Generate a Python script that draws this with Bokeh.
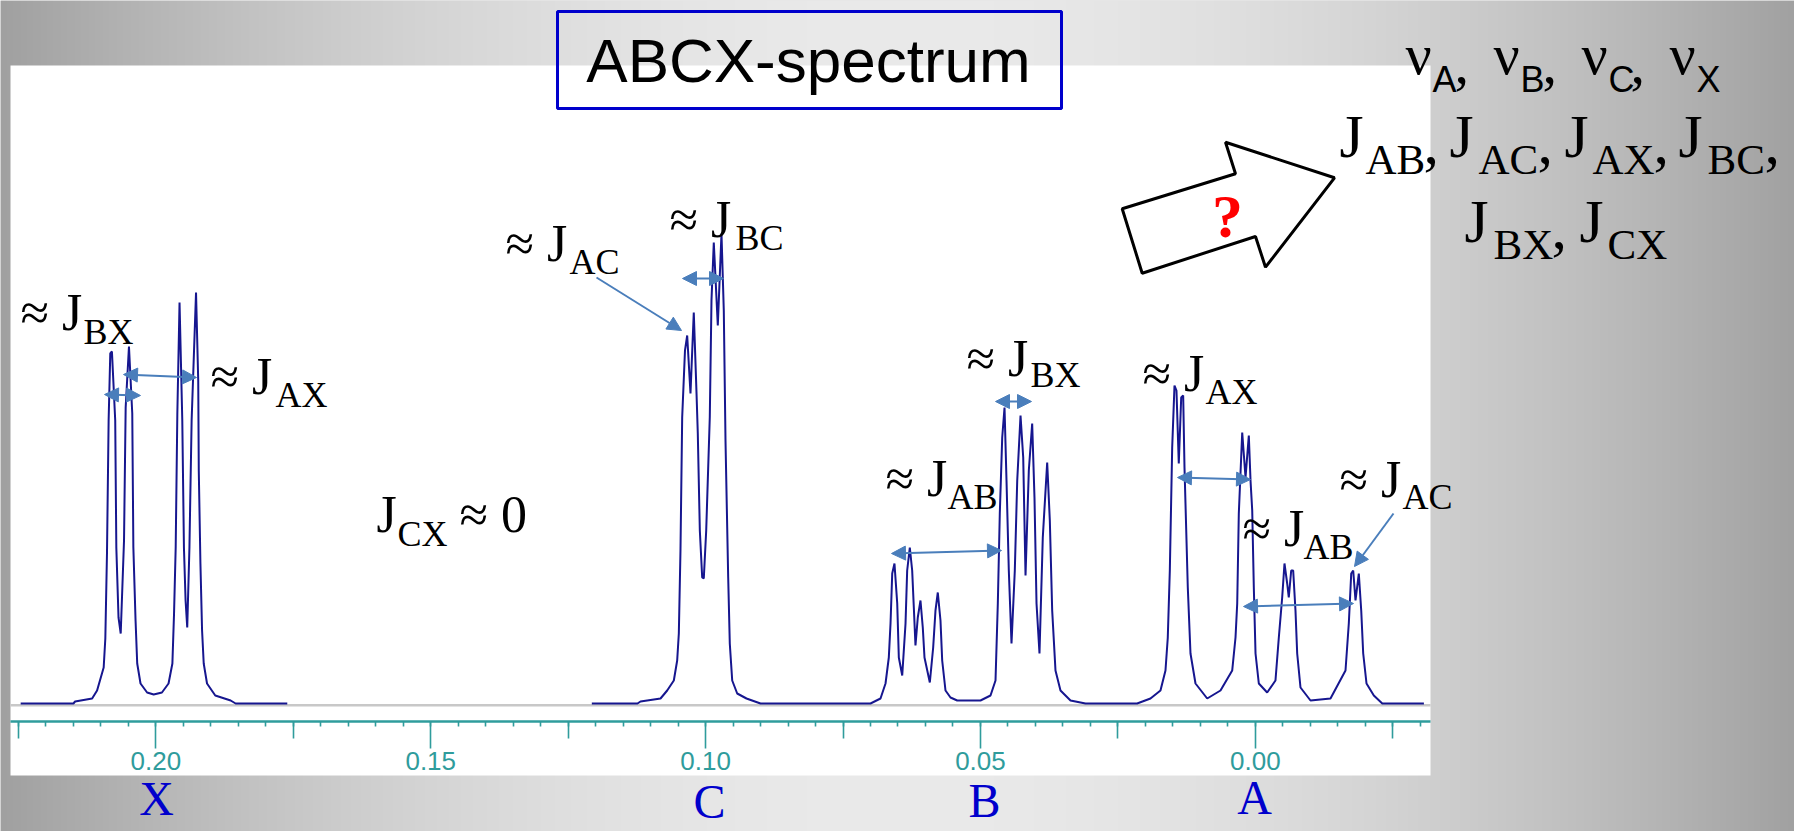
import numpy as np
from bokeh.plotting import figure
from bokeh.models import (Range1d, LinearAxis, FixedTicker, Label, BoxAnnotation,
                          PolyAnnotation, Arrow, NormalHead, NumeralTickFormatter)
from bokeh.embed import file_html
from bokeh.resources import INLINE

# ---------------- data ----------------
# spectrum trace, chemical shift (ppm) and intensity (arb. units)
seg1_ppm = [0.2246, 0.2150, 0.2147, 0.2116, 0.2107, 0.2095, 0.2092, 0.2089, 0.2086, 0.2083,
            0.2080, 0.2074, 0.2072, 0.2068, 0.2064, 0.2058, 0.2055, 0.2049, 0.2043, 0.2041,
            0.2037, 0.2034, 0.2028, 0.2016, 0.2004, 0.1989, 0.1977, 0.1970, 0.1967, 0.1964,
            0.1961, 0.1957, 0.1952, 0.1949, 0.1946, 0.1943, 0.1939, 0.1935, 0.1927, 0.1923,
            0.1922, 0.1919, 0.1916, 0.1913, 0.1907, 0.1892, 0.1864, 0.1855, 0.1761]
seg1_int = [0, 0, 2, 5, 13, 36, 65, 150, 283, 350,
            352, 283, 156, 86, 70, 163, 296, 357, 290, 156,
            83, 40, 20, 11, 9, 11, 20, 40, 90, 156,
            290, 401, 283, 156, 103, 76, 156, 283, 411, 323,
            233, 140, 73, 40, 20, 8, 3, 0, 0]

seg2_ppm = [0.12070, 0.11239, 0.11184, 0.10820, 0.10699, 0.10578, 0.10517, 0.10487, 0.10457, 0.10426,
            0.10375, 0.10335, 0.10275, 0.10215, 0.10165, 0.10142, 0.10105, 0.10062, 0.10033, 0.09989,
            0.09924, 0.09893, 0.09851, 0.09778, 0.09711, 0.09669, 0.09638, 0.09589, 0.09560, 0.09516,
            0.09425, 0.09256, 0.09001, 0.07000,
            0.06818, 0.06727, 0.06667, 0.06636, 0.06605, 0.06564, 0.06514, 0.06485, 0.06423, 0.06363,
            0.06333, 0.06285, 0.06242, 0.06212, 0.06182, 0.06140, 0.06091, 0.06049, 0.06018, 0.05921,
            0.05860, 0.05818, 0.05776, 0.05727, 0.05696, 0.05636, 0.05545, 0.05423, 0.04999, 0.04817,
            0.04726, 0.04684, 0.04648, 0.04604, 0.04562, 0.04526, 0.04484, 0.04435, 0.04375, 0.04331,
            0.04271, 0.04222, 0.04180, 0.04120, 0.04059, 0.04017, 0.03980, 0.03926, 0.03866, 0.03786,
            0.03738, 0.03695, 0.03635, 0.03544, 0.03362, 0.03089, 0.02150,
            0.01907, 0.01725, 0.01634, 0.01592, 0.01555, 0.01512, 0.01470, 0.01434, 0.01392, 0.01348,
            0.01312, 0.01288, 0.01270, 0.01228, 0.01179, 0.01088, 0.00875, 0.00633, 0.00420, 0.00360,
            0.00329, 0.00300, 0.00238, 0.00178, 0.00118, 0.00087, 0.00056, 0.00027, -0.00004, -0.00064,
            -0.00216, -0.00367, -0.00428, -0.00489, -0.00531, -0.00580, -0.00609, -0.00653, -0.00689, -0.00731,
            -0.00762, -0.00822, -0.01004, -0.01368, -0.01641, -0.01701, -0.01745, -0.01781, -0.01823, -0.01883,
            -0.01927, -0.01963, -0.02023, -0.02156, -0.02310, -0.03067]
seg2_int = [0, 0, 2, 5, 13, 23, 43, 70, 153, 286,
            353, 368, 310, 391, 310, 270, 173, 126, 125, 173,
            286, 403, 461, 378, 470, 393, 263, 126, 60, 23,
            10, 5, 0, 0,
            5, 20, 46, 80, 130, 140, 100, 46, 28, 80,
            133, 156, 133, 96, 58, 86, 103, 76, 46, 21,
            56, 93, 111, 83, 43, 13, 6, 3, 3, 8,
            23, 100, 190, 266, 296, 223, 133, 60, 133, 223,
            288, 246, 128, 233, 280, 206, 100, 50, 166, 241,
            183, 93, 33, 13, 3, 0, 0,
            5, 13, 33, 66, 133, 256, 318, 313, 240, 306,
            308, 236, 200, 116, 50, 20, 5, 13, 33, 66,
            100, 190, 271, 226, 268, 223, 193, 116, 50, 20,
            11, 23, 66, 106, 140, 120, 106, 133, 133, 93,
            50, 16, 3, 5, 33, 80, 130, 133, 103, 130,
            93, 50, 20, 8, 0, 0]

major_ticks = [0.20, 0.15, 0.10, 0.05, 0.00]
medium_ticks = [0.225, 0.175, 0.125, 0.075, 0.025, -0.025]
minor_ticks = [round(0.225 - 0.005 * i, 3) for i in range(52)]

nucleus_labels = ["X", "C", "B", "A"]

# ---------------- layout / style ----------------
W, H = 1794, 831
PX_PER_PPM = 5497.0
X0_PX = 1254.8          # screen x of 0.00 ppm
BASE_PX = 703.0         # screen y of the spectrum baseline
x_left = X0_PX / PX_PER_PPM
x_right = (X0_PX - W) / PX_PER_PPM

TEAL = "#2f9c9c"
NAVY = "#16168f"
ARROW_C = "#4a7ebb"
SERIF = "Liberation Serif"
SANS = "Liberation Sans"
BASELINE_FIX = 0.37     # renderer puts the alphabetic baseline this many em lower

p = figure(width=W, height=H, x_range=Range1d(x_left, x_right),
           y_range=Range1d(-(H - BASE_PX), BASE_PX),
           x_axis_type=None, y_axis_type=None, toolbar_location=None,
           output_backend="svg", min_border=0, title=None)
p.outline_line_color = None
p.background_fill_color = "#cfcfcf"
p.border_fill_color = "#cfcfcf"

# background gradient (pure styling)
p.extra_x_ranges = {"px": Range1d(0, W)}
p.extra_y_ranges = {"py": Range1d(0, H)}
cols = np.arange(0, W, 2) + 1.0
f = np.abs(cols - 900.0) / 900.0
v = np.clip(234 - 74 * f ** 1.9, 0, 255).astype(np.uint8)
img = np.empty((2, len(cols)), dtype=np.uint32)
view = img.view(dtype=np.uint8).reshape((2, len(cols), 4))
view[..., 0] = v
view[..., 1] = v
view[..., 2] = v
view[..., 3] = 255
p.image_rgba(image=[img], x=0, y=0, dw=W, dh=H, x_range_name="px", y_range_name="py", level="image")


def sy(y_px):
    return H - y_px


def screen_box(left, right, top, bottom, **kw):
    return BoxAnnotation(left=left, right=right, top=sy(top), bottom=sy(bottom),
                         left_units="screen", right_units="screen",
                         top_units="screen", bottom_units="screen", **kw)


# white panel and light grey baseline
p.add_layout(screen_box(10, 1430, 65, 775, fill_color="white", fill_alpha=1,
                        line_color=None, level="underlay"))
p.add_layout(screen_box(10, 1430, 703.5, 706, fill_color="#c8c8c8", fill_alpha=1,
                        line_color=None, level="underlay"))

# spectrum
p.line(seg1_ppm, seg1_int, line_color=NAVY, line_width=2)
p.line(seg2_ppm, seg2_int, line_color=NAVY, line_width=2)

# ppm axis (two layers for three tick lengths)
bounds = ((X0_PX - 1430) / PX_PER_PPM, (X0_PX - 10) / PX_PER_PPM)
axis_y = BASE_PX - 721
ax_main = LinearAxis(ticker=FixedTicker(ticks=major_ticks, minor_ticks=minor_ticks),
                     formatter=NumeralTickFormatter(format="0.00"),
                     fixed_location=axis_y, bounds=bounds,
                     axis_line_color=TEAL, axis_line_width=2.5,
                     major_tick_in=0, major_tick_out=27, minor_tick_in=0, minor_tick_out=5,
                     major_tick_line_color=TEAL, minor_tick_line_color=TEAL,
                     major_tick_line_width=1.6, minor_tick_line_width=1.6,
                     major_label_text_color=TEAL, major_label_text_font=SANS,
                     major_label_text_font_size="26px", major_label_standoff=3)
ax_mid = LinearAxis(ticker=FixedTicker(ticks=medium_ticks, minor_ticks=[]),
                    fixed_location=axis_y, bounds=bounds,
                    axis_line_color=None,
                    major_tick_in=0, major_tick_out=17, minor_tick_in=0, minor_tick_out=0,
                    major_tick_line_color=TEAL, major_tick_line_width=1.6,
                    minor_tick_line_color=None, major_label_text_color=None)
p.add_layout(ax_main, "below")
p.add_layout(ax_mid, "below")


def add_text(text, x_px, base_px, size, font=SERIF, color="black", align="left", style="normal"):
    p.add_layout(Label(x=x_px, y=sy(base_px - BASELINE_FIX * size), x_units="screen", y_units="screen",
                       text=text, text_font=font, text_font_size=f"{size}px", text_color=color,
                       text_align=align, text_baseline="alphabetic", text_font_style=style))


# title box
p.add_layout(screen_box(557, 1061, 11, 108, fill_alpha=0, line_color="#0000cc",
                        line_alpha=1, line_width=3))
add_text("ABCX-spectrum", 808, 83, 62, font=SANS, align="center")

# coupling annotations: (main x, main baseline, sub text, sub x, sub baseline)
ann = [(20, 331, "BX", 83, 345), (210, 395, "AX", 275, 408),
       (505, 262, "AC", 569, 275), (669, 238, "BC", 735, 251),
       (966, 377, "BX", 1030, 388), (1142, 392, "AX", 1205, 405),
       (885, 497, "AB", 947, 510), (1242, 547, "AB", 1303, 560),
       (1339, 498, "AC", 1402, 510)]
for mx, my, st, sx_, sy_ in ann:
    add_text("\u2248 J", mx, my, 52)
    add_text(st, sx_, sy_, 36)
add_text("J", 376, 533, 52)
add_text("CX", 397, 547, 36)
add_text("\u2248 0", 459, 533, 52)


# arrows
def arrow(x0, y0, x1, y1, both=True):
    def head():
        return NormalHead(size=14, fill_color=ARROW_C, line_color=ARROW_C, line_width=1)
    p.add_layout(Arrow(x_start=x0, y_start=sy(y0), x_end=x1, y_end=sy(y1),
                       start_units="screen", end_units="screen",
                       start=head() if both else None, end=head(),
                       line_color=ARROW_C, line_width=2))


arrow(104, 394, 140, 395)
arrow(123, 374, 196, 377)
arrow(682, 278, 723, 278)
arrow(596, 277, 681, 330, both=False)
arrow(995, 401, 1031, 401)
arrow(891, 553, 1001, 550)
arrow(1177, 477, 1250, 479)
arrow(1243, 606, 1353, 603)
arrow(1393, 513, 1354, 566, both=False)

# big outlined arrow with question mark
poly_x = [1121.7, 1235, 1225, 1334, 1265, 1255, 1141.7]
poly_y = [208.3, 173.3, 141.7, 177.3, 266.7, 236, 272.7]
p.add_layout(PolyAnnotation(xs=poly_x, ys=[sy(v_) for v_ in poly_y], xs_units="screen", ys_units="screen",
                            fill_color="white", fill_alpha=1, line_color="black", line_alpha=1, line_width=3))
add_text("?", 1227, 238, 62, color="#ff0000", align="center", style="bold")

# parameters list on the right
line1 = [(1405, 1432, 1454, "A"), (1493, 1520, 1542, "B"), (1581, 1608, 1630, "C"), (1669, 1696, None, "X")]
for nx, sx_, cx, st in line1:
    add_text("\u03bd", nx, 75, 58)
    add_text(st, sx_, 92, 36, font=SANS)
    if cx is not None:
        add_text(",", cx, 85, 58)
line2 = [(1339, 1365, 1423, "AB"), (1449, 1478, 1537, "AC"), (1564, 1592, 1653, "AX"), (1678, 1707, 1764, "BC")]
for jx, sx_, cx, st in line2:
    add_text("J", jx, 158, 62)
    add_text(st, sx_, 175, 43)
    add_text(",", cx, 165, 62)
line3 = [(1464, 1493, 1551, "BX"), (1579, 1607, None, "CX")]
for jx, sx_, cx, st in line3:
    add_text("J", jx, 243, 62)
    add_text(st, sx_, 260, 43)
    if cx is not None:
        add_text(",", cx, 250, 62)

# nucleus letters under the axis
for lab, (lx, ly) in zip(nucleus_labels, [(156, 816), (709, 819), (984, 818), (1254, 815)]):
    add_text(lab, lx, ly, 48, color="#0000cc", align="center")

open("out.html", "w").write(file_html(p, INLINE))
